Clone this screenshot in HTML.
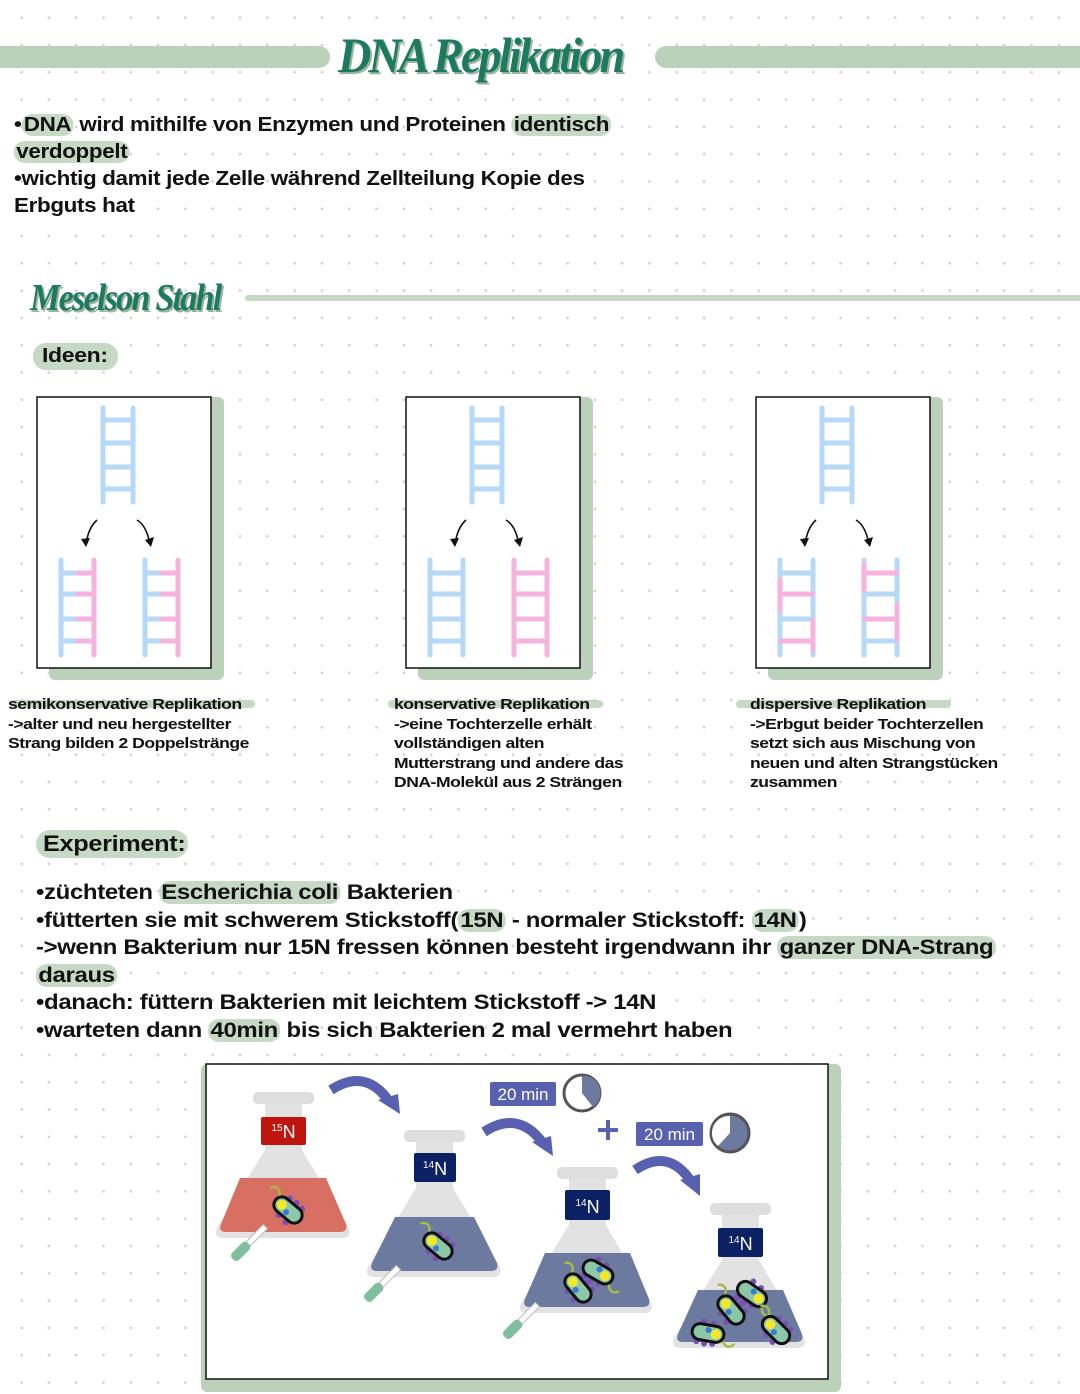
<!DOCTYPE html>
<html><head><meta charset="utf-8"><style>
html,body{margin:0;padding:0}
body{width:1080px;height:1394px;position:relative;overflow:hidden;background:#fff;
background-image:radial-gradient(circle,#d2d2d2 1.1px,transparent 1.6px);background-size:27.3px 27.3px;background-position:8px 4px;
font-family:"Liberation Sans",sans-serif;color:#111}
.t{position:absolute;font-weight:bold;white-space:nowrap;letter-spacing:-0.3px;transform-origin:0 0}
.hl{background:#c6d9c4;border-radius:10px;padding:0 2px}
.cap{position:absolute;font-weight:bold;font-size:15px;line-height:19.5px;letter-spacing:-0.4px;white-space:nowrap;transform:scaleX(1.17);transform-origin:0 0}
svg{position:absolute;left:0;top:0}
</style></head><body>
<svg width="1080" height="1394" viewBox="0 0 1080 1394">
<rect x="-10" y="46" width="340" height="22" rx="11" fill="#bcd1ba"/>
<rect x="655" y="46" width="440" height="22" rx="11" fill="#bcd1ba"/>
<rect x="245" y="295" width="850" height="6" rx="3" fill="#c6d8c4"/>
<g id="b1">
<rect x="49" y="397" width="175" height="283" rx="6" fill="#bcd1ba"/>
<rect x="37" y="397" width="174" height="271" fill="#fff" stroke="#111" stroke-width="1.5"/>
<g stroke="#b5d9f6" stroke-width="5" stroke-linecap="round">
<line x1="103" y1="408" x2="103" y2="502"/><line x1="133" y1="408" x2="133" y2="502"/>
<line x1="103" y1="420" x2="133" y2="420"/><line x1="103" y1="443" x2="133" y2="443"/><line x1="103" y1="467" x2="133" y2="467"/><line x1="103" y1="489" x2="133" y2="489"/>
<line x1="61" y1="560" x2="61" y2="655"/><line x1="145" y1="560" x2="145" y2="655"/>
<line x1="61" y1="573" x2="78" y2="573"/><line x1="61" y1="594" x2="78" y2="594"/><line x1="61" y1="619" x2="78" y2="619"/><line x1="61" y1="641" x2="78" y2="641"/>
<line x1="145" y1="573" x2="162" y2="573"/><line x1="145" y1="594" x2="162" y2="594"/><line x1="145" y1="619" x2="162" y2="619"/><line x1="145" y1="641" x2="162" y2="641"/>
</g>
<g stroke="#f6b3de" stroke-width="5" stroke-linecap="round">
<line x1="94" y1="560" x2="94" y2="655"/><line x1="178" y1="560" x2="178" y2="655"/>
<line x1="78" y1="573" x2="94" y2="573"/><line x1="78" y1="594" x2="94" y2="594"/><line x1="78" y1="619" x2="94" y2="619"/><line x1="78" y1="641" x2="94" y2="641"/>
<line x1="162" y1="573" x2="178" y2="573"/><line x1="162" y1="594" x2="178" y2="594"/><line x1="162" y1="619" x2="178" y2="619"/><line x1="162" y1="641" x2="178" y2="641"/>
</g>
<g fill="none" stroke="#111" stroke-width="1.6"><path d="M97 520 Q88 528 86 545"/><path d="M137 520 Q147 526 150 545"/></g>
<path d="M81 539 L86 547 L90 538Z M145 540 L151 547 L154 537Z" fill="#111"/>
</g>
<g id="b2">
<rect x="418" y="397" width="175" height="283" rx="6" fill="#bcd1ba"/>
<rect x="406" y="397" width="174" height="271" fill="#fff" stroke="#111" stroke-width="1.5"/>
<g stroke="#b5d9f6" stroke-width="5" stroke-linecap="round">
<line x1="472" y1="408" x2="472" y2="502"/><line x1="502" y1="408" x2="502" y2="502"/>
<line x1="472" y1="420" x2="502" y2="420"/><line x1="472" y1="443" x2="502" y2="443"/><line x1="472" y1="467" x2="502" y2="467"/><line x1="472" y1="489" x2="502" y2="489"/>
<line x1="430" y1="560" x2="430" y2="655"/><line x1="463" y1="560" x2="463" y2="655"/>
<line x1="430" y1="573" x2="463" y2="573"/><line x1="430" y1="594" x2="463" y2="594"/><line x1="430" y1="619" x2="463" y2="619"/><line x1="430" y1="641" x2="463" y2="641"/>
</g>
<g stroke="#f6b3de" stroke-width="5" stroke-linecap="round">
<line x1="514" y1="560" x2="514" y2="655"/><line x1="547" y1="560" x2="547" y2="655"/>
<line x1="514" y1="573" x2="547" y2="573"/><line x1="514" y1="594" x2="547" y2="594"/><line x1="514" y1="619" x2="547" y2="619"/><line x1="514" y1="641" x2="547" y2="641"/>
</g>
<g fill="none" stroke="#111" stroke-width="1.6"><path d="M466 520 Q457 528 455 545"/><path d="M506 520 Q516 526 519 545"/></g>
<path d="M450 539 L455 547 L459 538Z M514 540 L520 547 L523 537Z" fill="#111"/>
</g>
<g id="b3">
<rect x="768" y="397" width="175" height="283" rx="6" fill="#bcd1ba"/>
<rect x="756" y="397" width="174" height="271" fill="#fff" stroke="#111" stroke-width="1.5"/>
<g stroke="#b5d9f6" stroke-width="5" stroke-linecap="round">
<line x1="822" y1="408" x2="822" y2="502"/><line x1="852" y1="408" x2="852" y2="502"/>
<line x1="822" y1="420" x2="852" y2="420"/><line x1="822" y1="443" x2="852" y2="443"/><line x1="822" y1="467" x2="852" y2="467"/><line x1="822" y1="489" x2="852" y2="489"/>
<line x1="780" y1="560" x2="780" y2="655"/><line x1="813" y1="560" x2="813" y2="655"/><line x1="864" y1="560" x2="864" y2="655"/><line x1="897" y1="560" x2="897" y2="655"/>
<line x1="780" y1="573" x2="813" y2="573"/><line x1="780" y1="619" x2="813" y2="619"/><line x1="864" y1="594" x2="897" y2="594"/><line x1="864" y1="641" x2="897" y2="641"/>
</g>
<g stroke="#f6b3de" stroke-width="5" stroke-linecap="round">
<line x1="780" y1="580" x2="780" y2="610"/><line x1="813" y1="620" x2="813" y2="650"/><line x1="864" y1="565" x2="864" y2="590"/><line x1="897" y1="605" x2="897" y2="640"/>
<line x1="780" y1="594" x2="813" y2="594"/><line x1="780" y1="641" x2="813" y2="641"/><line x1="864" y1="573" x2="897" y2="573"/><line x1="864" y1="619" x2="897" y2="619"/>
</g>
<g fill="none" stroke="#111" stroke-width="1.6"><path d="M816 520 Q807 528 805 545"/><path d="M856 520 Q866 526 869 545"/></g>
<path d="M800 539 L805 547 L809 538Z M864 540 L870 547 L873 537Z" fill="#111"/>
</g>
<rect x="33" y="343" width="85" height="27" rx="13" fill="#c6d9c4"/>
<rect x="36" y="830" width="152" height="28" rx="14" fill="#c6d9c4"/>
<rect x="10" y="700" width="245" height="8" rx="4" fill="#c6d9c4"/>
<rect x="388" y="700" width="215" height="8" rx="4" fill="#c6d9c4"/>
<rect x="736" y="700" width="215" height="8" rx="4" fill="#c6d9c4"/>
<rect x="201" y="1064" width="640" height="328" rx="6" fill="#bcd1ba"/>
<rect x="206" y="1064" width="622" height="315" fill="#fff" stroke="#111" stroke-width="1.5"/>
<defs>
<g id="bac">
<path d="M-28 -6 q6 -8 12 0 t12 0" fill="none" stroke="#a8b84a" stroke-width="2.5"/>
<g fill="#7a4fb5"><circle cx="-6" cy="-10" r="3"/><circle cx="2" cy="-11" r="3"/><circle cx="10" cy="-10" r="3"/><circle cx="-4" cy="10" r="3"/><circle cx="6" cy="11" r="3"/></g>
<rect x="-16" y="-8" width="32" height="16" rx="8" fill="#8cc7a8" stroke="#111" stroke-width="3"/>
<circle cx="-8" cy="0" r="5" fill="#f3e82a"/><circle cx="0" cy="3" r="3" fill="#3a7ad0"/>
</g>
<g id="pip">
<rect x="-3" y="-36" width="6" height="26" fill="#fff" stroke="#bbb" stroke-width="1"/>
<rect x="-5" y="-12" width="10" height="22" rx="4" fill="#7fbf9e"/>
</g>
</defs>
<g>
<rect x="253" y="1092" width="61" height="12" rx="5" fill="#dedede"/>
<path d="M265 1104 H302 V1150 L349 1228 Q352 1238 342 1238 H224 Q213 1238 217 1228 L265 1150Z" fill="#e2e2e2"/>
<path d="M240 1178 H326 L346 1224 Q348 1232 340 1232 H226 Q218 1232 221 1224Z" fill="#d86f63"/>
<rect x="261" y="1117" width="45" height="28" rx="2" fill="#c0150f"/>
<text x="283.5" y="1138" font-family="Liberation Sans" font-size="18" fill="#fff" text-anchor="middle"><tspan font-size="10" dy="-7">15</tspan><tspan dy="7">N</tspan></text>
<use href="#bac" transform="translate(288 1210) rotate(40)"/>
<use href="#pip" transform="translate(240 1252) rotate(45)"/>
</g>
<g>
<rect x="404" y="1130" width="61" height="12" rx="5" fill="#dedede"/>
<path d="M416 1142 H453 V1188 L500 1267 Q503 1277 493 1277 H375 Q364 1277 368 1267 L416 1188Z" fill="#e2e2e2"/>
<path d="M395 1217 H474 L497 1263 Q499 1271 491 1271 H377 Q369 1271 372 1263Z" fill="#6c7aa0"/>
<rect x="414" y="1153" width="42" height="29" rx="2" fill="#0c2164"/>
<text x="435" y="1175" font-family="Liberation Sans" font-size="18" fill="#fff" text-anchor="middle"><tspan font-size="10" dy="-7">14</tspan><tspan dy="7">N</tspan></text>
<use href="#bac" transform="translate(438 1246) rotate(40)"/>
<use href="#pip" transform="translate(373 1293) rotate(45)"/>
</g>
<g>
<rect x="557" y="1167" width="61" height="12" rx="5" fill="#dedede"/>
<path d="M569 1179 H606 V1225 L651 1303 Q654 1313 644 1313 H528 Q517 1313 521 1303 L569 1225Z" fill="#e2e2e2"/>
<path d="M545 1253 H630 L649 1299 Q651 1307 643 1307 H530 Q522 1307 525 1299Z" fill="#6c7aa0"/>
<rect x="565" y="1190" width="45" height="30" rx="2" fill="#0c2164"/>
<text x="587.5" y="1213" font-family="Liberation Sans" font-size="18" fill="#fff" text-anchor="middle"><tspan font-size="10" dy="-7">14</tspan><tspan dy="7">N</tspan></text>
<use href="#bac" transform="translate(578 1288) rotate(50)"/>
<use href="#bac" transform="translate(598 1272) rotate(-150)"/>
<use href="#pip" transform="translate(512 1330) rotate(45)"/>
</g>
<g>
<rect x="710" y="1203" width="61" height="12" rx="5" fill="#dedede"/>
<path d="M722 1215 H759 V1260 L804 1338 Q807 1348 797 1348 H681 Q670 1348 674 1338 L722 1260Z" fill="#e2e2e2"/>
<path d="M698 1290 H783 L802 1334 Q804 1342 796 1342 H683 Q675 1342 678 1334Z" fill="#6c7aa0"/>
<rect x="718" y="1228" width="45" height="29" rx="2" fill="#0c2164"/>
<text x="740.5" y="1250" font-family="Liberation Sans" font-size="18" fill="#fff" text-anchor="middle"><tspan font-size="10" dy="-7">14</tspan><tspan dy="7">N</tspan></text>
<use href="#bac" transform="translate(752 1294) rotate(-145)"/>
<use href="#bac" transform="translate(731 1310) rotate(50)"/>
<use href="#bac" transform="translate(708 1333) rotate(-170)"/>
<use href="#bac" transform="translate(776 1330) rotate(45)"/>
</g>
<g fill="none" stroke="#5761b0" stroke-width="10">
<path d="M331 1090 Q365 1068 388 1100"/>
<path d="M484 1132 Q518 1110 542 1142"/>
<path d="M635 1170 Q668 1148 690 1180"/>
</g>
<g fill="#5761b0">
<path d="M378 1100 L400 1114 L398 1094Z"/>
<path d="M532 1142 L553 1156 L551 1136Z"/>
<path d="M680 1180 L700 1196 L700 1174Z"/>
<rect x="490" y="1082" width="66" height="24" rx="2"/>
<rect x="636" y="1122" width="67" height="24" rx="2"/>
<rect x="606" y="1120" width="4" height="20"/><rect x="598" y="1128" width="20" height="4"/>
</g>
<text x="523" y="1100" font-family="Liberation Sans" font-size="17" fill="#fff" text-anchor="middle">20 min</text>
<text x="669.5" y="1140" font-family="Liberation Sans" font-size="17" fill="#fff" text-anchor="middle">20 min</text>
<circle cx="582" cy="1093" r="18" fill="#fff" stroke="#555" stroke-width="3"/>
<path d="M582 1093 V1076 A17 17 0 0 1 593 1107Z" fill="#6c7aa0"/>
<circle cx="730" cy="1133" r="19" fill="#6c7aa0" stroke="#555" stroke-width="3"/>
<path d="M730 1133 L718 1146 A17 17 0 0 1 730 1116Z" fill="#fff"/>
</svg>

<div class="t" style="left:338px;top:26px;font-family:'Liberation Serif',serif;font-style:italic;font-size:50px;color:#1b7a60;text-shadow:2px 2px 0 #9bb39a;letter-spacing:-3px;transform:scaleX(0.92)">DNA Replikation</div>
<div class="t" style="left:14px;top:112px;font-size:20px;line-height:27px;transform:scaleX(1.12)">•<span class="hl">DNA</span> wird mithilfe von Enzymen und Proteinen <span class="hl">identisch</span><br><span class="hl">verdoppelt</span><br>•wichtig damit jede Zelle während Zellteilung Kopie des<br>Erbguts hat</div>
<div class="t" style="left:30px;top:276px;font-family:'Liberation Serif',serif;font-style:italic;font-size:38px;color:#1b7a60;text-shadow:2px 2px 0 #9bb39a;letter-spacing:-2px;transform:scaleX(0.9)">Meselson Stahl</div>
<div class="t" style="left:42px;top:345px;font-size:20px;transform:scaleX(1.15)">Ideen:</div>
<div class="cap" style="left:8px;top:695px">semikonservative Replikation<br>-&gt;alter und neu hergestellter<br>Strang bilden 2 Doppelstränge</div>
<div class="cap" style="left:394px;top:695px">konservative Replikation<br>-&gt;eine Tochterzelle erhält<br>vollständigen alten<br>Mutterstrang und andere das<br>DNA-Molekül aus 2 Strängen</div>
<div class="cap" style="left:750px;top:695px">dispersive  Replikation<br>-&gt;Erbgut beider Tochterzellen<br>setzt sich aus Mischung von<br>neuen und alten Strangstücken<br>zusammen</div>
<div class="t" style="left:43px;top:831px;font-size:22px;transform:scaleX(1.15)">Experiment:</div>
<div class="t" style="left:36px;top:879px;font-size:21px;line-height:27.6px;transform:scaleX(1.14)">•züchteten <span class="hl">Escherichia coli</span> Bakterien<br>•fütterten sie mit schwerem Stickstoff(<span class="hl">15N</span> - normaler Stickstoff: <span class="hl">14N</span>)<br>-&gt;wenn Bakterium nur 15N fressen können besteht irgendwann ihr <span class="hl">ganzer DNA-Strang</span><br><span class="hl">daraus</span><br>•danach: füttern Bakterien mit leichtem Stickstoff -&gt; 14N<br>•warteten dann <span class="hl">40min</span> bis sich Bakterien 2 mal vermehrt haben</div>
</body></html>
